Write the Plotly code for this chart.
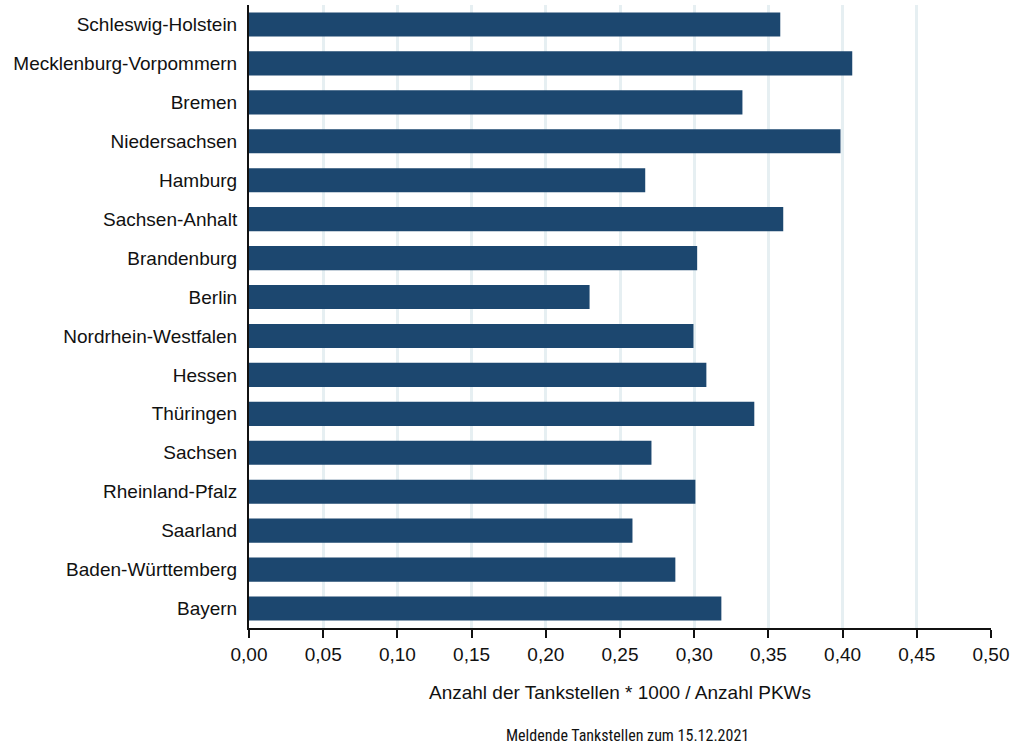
import plotly.graph_objects as go

states = ["Schleswig-Holstein", "Mecklenburg-Vorpommern", "Bremen", "Niedersachsen", "Hamburg",
          "Sachsen-Anhalt", "Brandenburg", "Berlin", "Nordrhein-Westfalen", "Hessen", "Thüringen",
          "Sachsen", "Rheinland-Pfalz", "Saarland", "Baden-Württemberg", "Bayern"]
values = [0.358, 0.4065, 0.3325, 0.3986, 0.267, 0.360, 0.302, 0.2295, 0.2995, 0.3082, 0.3405,
          0.2712, 0.3008, 0.2584, 0.2873, 0.3183]
tick_vals = [0.0, 0.05, 0.10, 0.15, 0.20, 0.25, 0.30, 0.35, 0.40, 0.45, 0.50]
tick_text = ["0,00", "0,05", "0,10", "0,15", "0,20", "0,25", "0,30", "0,35", "0,40", "0,45", "0,50"]

W, H = 1011, 745
ML, MR, MT, MB = 249, 20, 5, 117

fig = go.Figure(go.Bar(
    x=values, y=states, orientation="h",
    marker=dict(color="#1c476f", line=dict(width=0)),
    width=0.62,
))

fig.update_layout(
    width=W, height=H,
    margin=dict(l=ML, r=MR, t=MT, b=MB, autoexpand=False),
    plot_bgcolor="white", paper_bgcolor="white",
    font=dict(family="Liberation Sans, Arial, sans-serif", size=19, color="#111111"),
    showlegend=False,
    xaxis=dict(
        range=[0, 0.5], tickvals=tick_vals, ticktext=tick_text,
        showgrid=True, gridcolor="#e6eff2", gridwidth=2.5,
        showline=True, linecolor="#111111", linewidth=2,
        ticks="outside", ticklen=8, tickwidth=1.5, tickcolor="#111111",
        zeroline=False, ticklabeloverflow="allow", automargin=False,
        title=dict(text="Anzahl der Tankstellen * 1000 / Anzahl PKWs", standoff=22,
                   font=dict(size=19)),
        tickfont=dict(size=19),
    ),
    yaxis=dict(
        categoryorder="array", categoryarray=states, autorange="reversed",
        showline=True, linecolor="#111111", linewidth=2, automargin=False,
        showgrid=False, ticks="", ticklabelstandoff=6,
        tickfont=dict(size=19),
    ),
)
plot_h = H - MT - MB
plot_w = W - ML - MR
fig.add_annotation(
    text="Meldende Tankstellen zum 15.12.2021",
    x=(627 - ML) / plot_w, xref="paper",
    y=-(735 - (H - MB)) / plot_h, yref="paper",
    showarrow=False, yanchor="middle", xanchor="center",
    font=dict(family="Liberation Sans Narrow, Roboto Condensed, sans-serif", size=16, color="#111111"),
)

fig.write_html("out.html", config={"displayModeBar": False},
               post_script="document.body.style.margin='0';document.body.style.overflow='hidden';")
